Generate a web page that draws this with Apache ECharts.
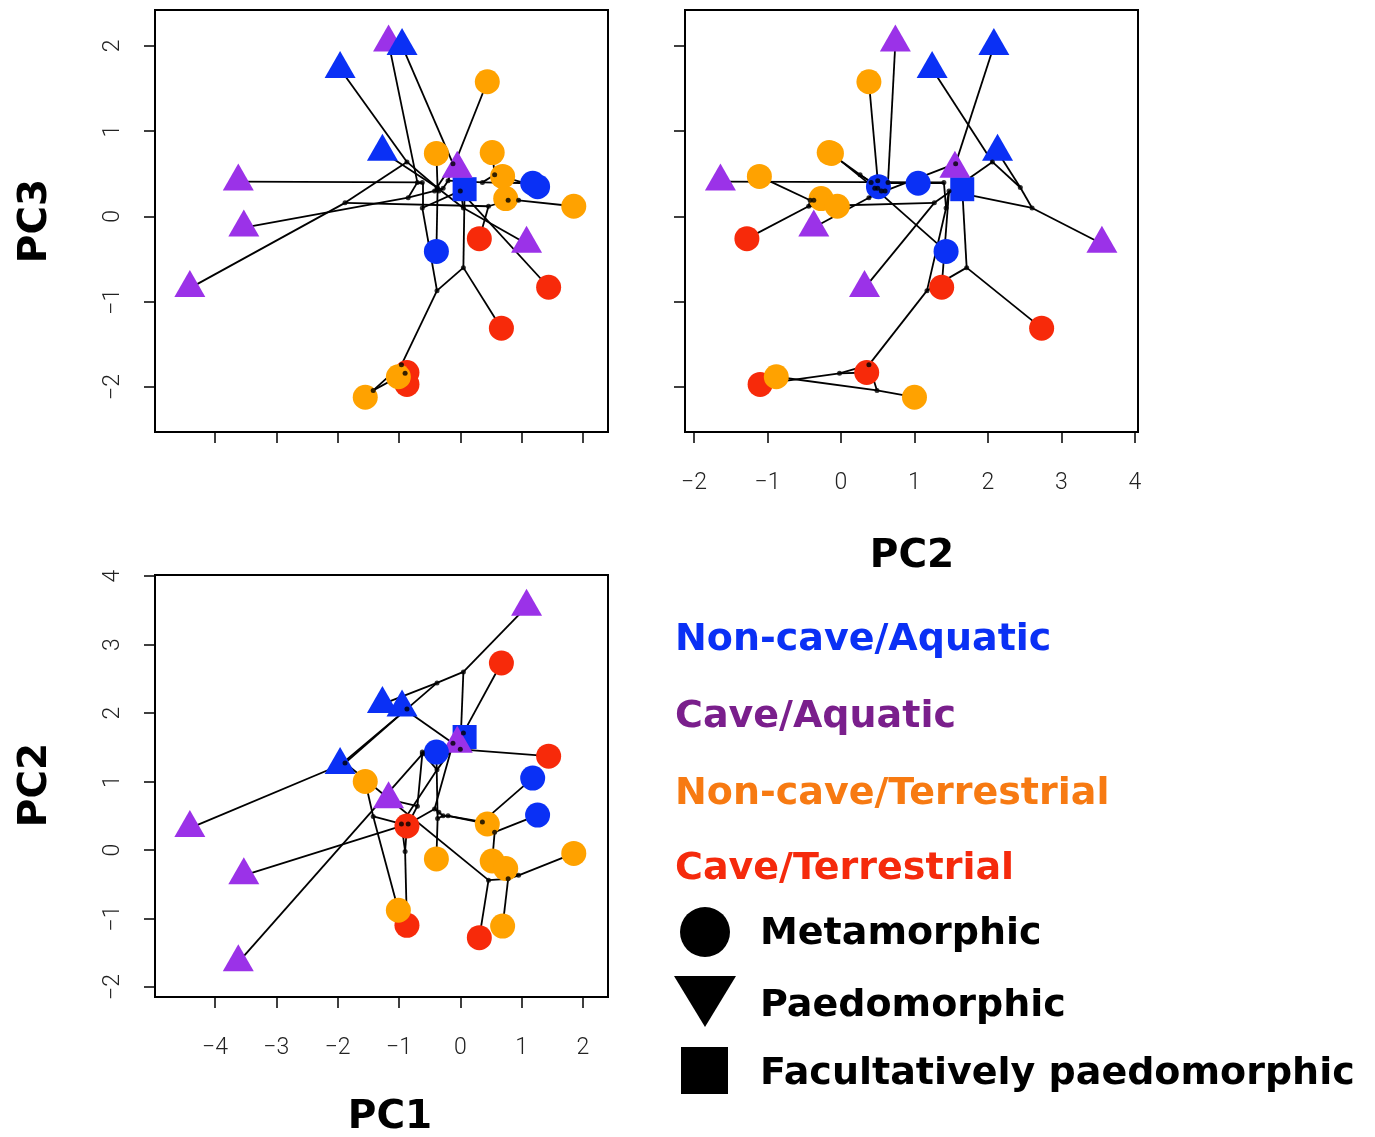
<!DOCTYPE html>
<html><head><meta charset="utf-8">
<script src="https://cdn.jsdelivr.net/npm/echarts@6/dist/echarts.min.js"></script>
<style>html,body{margin:0;padding:0;background:#fff}#c{width:1375px;height:1137px}</style>
</head><body><div id="c"></div>
<script>
// ---------- tip taxa (PC1, PC2, PC3) ----------
const tipIds = ['P1','P2','P3','P4','P5','P6','B1','B2','B3','S','C1','C2','C3','R1','R2','R3','R4','R5','O1','O2','O3','O4','O5','O6','O7','O8'];
const tipPC1 = [-1.17,-0.05,-3.62,-3.53,-4.41,1.08,-0.95,-1.96,-1.27,0.07,-0.39,1.18,1.26,0.31,1.44,0.67,-0.87,-0.87,0.44,-0.39,0.52,0.69,0.74,1.85,-1.01,-1.55];
const tipPC2 = [0.74,1.55,-1.64,-0.37,0.32,3.55,2.08,1.24,2.13,1.65,1.43,1.05,0.51,-1.28,1.37,2.73,0.35,-1.10,0.38,-0.13,-0.16,-1.11,-0.27,-0.05,-0.88,1.00];
const tipPC3 = [2.04,0.56,0.41,-0.13,-0.84,-0.32,2.00,1.73,0.76,0.32,-0.41,0.39,0.35,-0.26,-0.83,-1.31,-1.83,-1.97,1.58,0.74,0.75,0.47,0.21,0.12,-1.88,-2.12];
const tipHabitat = ['CA','CA','CA','CA','CA','CA','NA','NA','NA','NA','NA','NA','NA','CT','CT','CT','CT','CT','NT','NT','NT','NT','NT','NT','NT','NT'];
const tipForm = ['P','P','P','P','P','P','P','P','P','F','M','M','M','M','M','M','M','M','M','M','M','M','M','M','M','M'];

// ---------- internal nodes (ancestral states) ----------
const nodeIds = ['Root','X1','X2','Nr0','Nm','Nk','Nco','Np4','Np1','Nq','Nz','Nb','Nc','Na','Nd','Ne','Nr2','Nx','Ny','Nw','Nv','N3','N1','N2','Nb1'];
const nodePC1 = [-0.35,-0.28,-0.42,-0.20,0.36,0.56,-0.37,-0.85,-0.70,-0.62,-0.62,-0.38,0.05,-0.96,-0.90,-1.42,0.00,0.05,-0.38,-0.87,-1.88,0.46,0.78,0.95,-0.12];
const nodePC2 = [0.55,0.50,0.60,0.50,0.41,0.26,0.46,0.38,0.64,1.40,1.43,1.17,1.71,0.38,-0.02,0.49,1.47,2.60,2.44,2.06,1.27,-0.44,-0.42,-0.37,1.56];
const nodePC3 = [0.30,0.33,0.30,0.42,0.40,0.49,0.33,0.22,0.40,0.40,0.10,-0.87,-0.60,-1.74,-1.84,-2.04,0.30,0.10,0.34,0.64,0.16,0.12,0.19,0.19,0.62];

// ---------- tree edges (parent, child) ----------
const edges = [
 ['Root','X1'],['Root','X2'],['X1','Nr0'],['X1','Nco'],['Nr0','O1'],['Nr0','Nm'],
 ['Nm','Nk'],['Nm','C2'],['Nk','O3'],['Nk','C3'],['Nco','C1'],['Nco','O2'],
 ['X2','Np4'],['X2','Nb1'],['Np4','P4'],['Np4','Np1'],['Np1','P1'],['Np1','Nq'],
 ['Nq','P3'],['Nq','Nz'],['Nz','Nb'],['Nz','Nr2'],['Nb','Na'],['Nb','Nc'],
 ['Nc','R3'],['Nc','S'],['Na','Nd'],['Na','Ne'],['Nd','R4'],['Nd','R5'],
 ['Ne','O8'],['Ne','O7'],['Nr2','R2'],['Nr2','Nx'],['Nx','P6'],['Nx','Ny'],
 ['Ny','B3'],['Ny','Nw'],['Nw','B2'],['Nw','Nv'],['Nv','P5'],['Nv','N3'],
 ['N3','R1'],['N3','N1'],['N1','O4'],['N1','N2'],['N2','O6'],['N2','O5'],
 ['Nb1','B1'],['Nb1','P2']
];

// ---------- tick labels ----------
const ticksPC1 = [-4,-3,-2,-1,0,1,2];
const ticksPC2x = [-2,-1,0,1,2,3,4];
const ticksPC3 = [-2,-1,0,1,2];
const ticksPC2y = [-2,-1,0,1,2,3,4];

// legend text
const habitatLabels = {NA:'Non-cave/Aquatic', CA:'Cave/Aquatic', NT:'Non-cave/Terrestrial', CT:'Cave/Terrestrial'};
const formLabels = ['Metamorphic','Paedomorphic','Facultatively paedomorphic'];

// ---------- styling ----------
const markColor = {NA:'#0a30f5', CA:'#9b32e8', NT:'#ffa200', CT:'#f72a0a'};
const textColor = {NA:'#0a30f5', CA:'#7a1f8c', NT:'#f77a12', CT:'#f52a0c'};

const coord = {};
tipIds.forEach((id,i)=>coord[id]=[tipPC1[i],tipPC2[i],tipPC3[i]]);
nodeIds.forEach((id,i)=>coord[id]=[nodePC1[i],nodePC2[i],nodePC3[i]]);

// panels: [x-dim, y-dim]
const panels = [[0,2],[1,2],[0,1]];
const grids = [
  {left:155, top:10, width:453, height:422},
  {left:685, top:10, width:453, height:422},
  {left:155, top:575, width:453, height:422}
].map(g=>Object.assign(g,{show:true, borderColor:'#000', borderWidth:2, backgroundColor:'rgba(0,0,0,0)'}));

const fmt = v => (v<0 ? '\u2212'+Math.abs(v) : String(v));
function axis(gi, min, max, ticks, showLabels, isY){
  return {
    type:'value', gridIndex:gi, min:min, max:max,
    position: isY ? 'left' : 'bottom',
    axisLine:{show:false, onZero:false}, splitLine:{show:false},
    axisTick:{show:true, inside:false, length:11, lineStyle:{color:'#000', width:1.5}, customValues:ticks},
    axisLabel:{show:showLabels, customValues:ticks, formatter:fmt, fontSize:23, color:'#222',
      fontFamily:'Roboto, Liberation Sans, sans-serif', fontWeight:300, margin:isY?30:40, rotate:isY?90:0}
  };
}
const xAxis = [
  axis(0,-4.978,2.408,ticksPC1,false,false),
  axis(1,-2.122,4.041,ticksPC2x,true,false),
  axis(2,-4.978,2.408,ticksPC1,true,false)
];
const yAxis = [
  axis(0,-2.528,2.422,ticksPC3,true,true),
  axis(1,-2.528,2.422,ticksPC3,false,true),
  axis(2,-2.146,4.015,ticksPC2y,true,true)
];

const drawOrder = [['NA','F'],['CA','P'],['NA','P'],['CT','M'],['NT','M'],['NA','M']];
const series = [];
panels.forEach(([xd,yd],pi)=>{
  series.push({
    type:'lines', coordinateSystem:'cartesian2d', xAxisIndex:pi, yAxisIndex:pi, z:1, silent:true,
    lineStyle:{color:'#000', width:1.8, opacity:1, curveness:0},
    data: edges.map(([a,b])=>({coords:[[coord[a][xd],coord[a][yd]],[coord[b][xd],coord[b][yd]]]}))
  });
  drawOrder.forEach(([h,f])=>{
    const pts = tipIds.filter((id,i)=>tipHabitat[i]===h && tipForm[i]===f).map(id=>[coord[id][xd],coord[id][yd]]);
    const sym = f==='M' ? {symbol:'circle', symbolSize:25} :
                f==='P' ? {symbol:'triangle', symbolSize:[31,27], symbolOffset:[0,-4.5]} :
                          {symbol:'rect', symbolSize:24};
    series.push(Object.assign({type:'scatter', xAxisIndex:pi, yAxisIndex:pi, z:2, silent:true,
      itemStyle:{color:markColor[h], opacity:1}, data:pts}, sym));
  });
  series.push({type:'scatter', xAxisIndex:pi, yAxisIndex:pi, z:3, silent:true, symbol:'circle', symbolSize:5,
    itemStyle:{color:'#000'}, data: nodeIds.map(id=>[coord[id][xd],coord[id][yd]])});
});

const titleFont = 'bold 39px "DejaVu Sans", sans-serif';
const legFont = 'bold 38px "DejaVu Sans", sans-serif';
const graphic = [
  {type:'text', x:36, y:221, rotation:Math.PI/2, style:{text:'PC3', font:titleFont, fill:'#000', align:'center', verticalAlign:'middle'}},
  {type:'text', x:912, y:557, style:{text:'PC2', font:titleFont, fill:'#000', align:'center', verticalAlign:'middle'}},
  {type:'text', x:36, y:785, rotation:Math.PI/2, style:{text:'PC2', font:titleFont, fill:'#000', align:'center', verticalAlign:'middle'}},
  {type:'text', x:390, y:1118, style:{text:'PC1', font:titleFont, fill:'#000', align:'center', verticalAlign:'middle'}},
];
['NA','CA','NT','CT'].forEach((h,i)=>{
  graphic.push({type:'text', x:675, y:[640,717,794,869][i], style:{text:habitatLabels[h], font:legFont, fill:textColor[h], align:'left', verticalAlign:'middle'}});
});
graphic.push({type:'circle', shape:{cx:705, cy:932, r:25}, style:{fill:'#000'}});
graphic.push({type:'polygon', shape:{points:[[674,976],[736,976],[705,1027]]}, style:{fill:'#000'}});
graphic.push({type:'rect', shape:{x:681, y:1047, width:47, height:47}, style:{fill:'#000'}});
formLabels.forEach((t,i)=>{
  graphic.push({type:'text', x:760, y:[934,1006,1074][i], style:{text:t, font:legFont, fill:'#000', align:'left', verticalAlign:'middle'}});
});

const chart = echarts.init(document.getElementById('c'), null, {renderer:'canvas'});
chart.setOption({animation:false, backgroundColor:'#fff', grid:grids, xAxis:xAxis, yAxis:yAxis, series:series, graphic:graphic});
</script></body></html>
